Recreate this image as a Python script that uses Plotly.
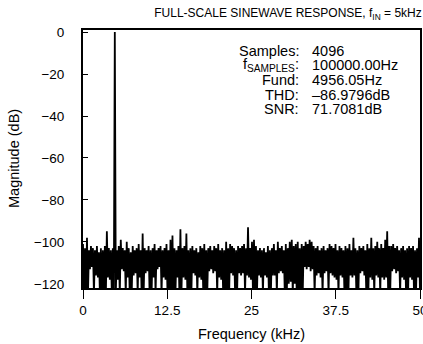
import numpy as np
import plotly.graph_objects as go

# ---- data ----
# spectrum drawn as alternating local peak / local trough per pair of FFT bins
noise_peaks_db = [
    -101, -103, -98, -104, -102,
    -103, -104, -102, -105, -103,
    -104, -102, -95, -103, -104,
    -103, 0, -104, -102, -99,
    -103, -104, -100, -103, -105,
    -102, -104, -103, -101, -104,
    -96, -103, -104, -102, -104,
    -103, -101, -104, -103, -102,
    -104, -103, -101, -104, -99,
    -97, -103, -104, -102, -94,
    -103, -102, -96, -104, -103,
    -102, -104, -103, -105, -102,
    -103, -101, -104, -103, -102,
    -104, -102, -103, -101, -104,
    -103, -104, -100, -103, -101,
    -102, -103, -104, -102, -103,
    -102, -101, -103, -93, -103,
    -100, -99, -102, -104, -103,
    -104, -103, -105, -102, -104,
    -103, -101, -104, -100, -103,
    -102, -104, -101, -103, -100,
    -99, -102, -101, -100, -103,
    -101, -102, -100, -101, -99,
    -100, -102, -103, -102, -104,
    -103, -102, -104, -103, -101,
    -102, -103, -101, -104, -102,
    -103, -104, -102, -103, -101,
    -104, -98, -103, -104, -102,
    -103, -102, -104, -101, -103,
    -98, -103, -102, -100, -103,
    -101, -103, -99, -95, -102,
    -102, -101, -103, -102, -104,
    -103, -102, -104, -103, -102,
    -103, -102, -104, -103, -98,
]
noise_troughs_db = [
    -125, -125, -125, -113, -112,
    -125, -116, -117, -125, -125,
    -125, -125, -117, -118, -125,
    -125, -125, -118, -125, -113,
    -114, -125, -117, -125, -125,
    -116, -115, -125, -117, -125,
    -125, -115, -114, -125, -125,
    -117, -125, -113, -112, -125,
    -117, -118, -125, -125, -125,
    -125, -125, -117, -125, -125,
    -117, -118, -125, -125, -125,
    -115, -116, -125, -117, -118,
    -125, -125, -125, -114, -113,
    -115, -114, -125, -117, -118,
    -125, -125, -125, -125, -115,
    -116, -125, -125, -115, -116,
    -115, -125, -116, -117, -118,
    -125, -125, -125, -116, -117,
    -125, -116, -117, -125, -125,
    -116, -116, -125, -115, -114,
    -115, -125, -125, -120, -119,
    -125, -120, -125, -125, -125,
    -125, -112, -113, -112, -114,
    -113, -125, -116, -115, -117,
    -125, -115, -114, -125, -115,
    -116, -117, -118, -125, -116,
    -117, -125, -125, -125, -116,
    -117, -116, -125, -125, -115,
    -114, -116, -125, -125, -117,
    -118, -125, -116, -117, -125,
    -117, -118, -117, -125, -125,
    -114, -113, -115, -114, -125,
    -117, -118, -125, -125, -117,
    -118, -125, -125, -117, -125,
]
freq_span_khz = [0.0, 50.0]
x_tick_vals = [0, 12.5, 25, 37.5, 50]
x_tick_text = ["0", "12.5", "25", "37.5", "50"]
y_tick_vals = [0, -20, -40, -60, -80, -100, -120]

stats_labels = ["Samples:", "f<sub>SAMPLES</sub>:", "Fund:", "THD:", "SNR:"]
stats_values = ["4096", "100000.00Hz", "4956.05Hz", "\u201386.9796dB", "71.7081dB"]

title_text = "FULL-SCALE SINEWAVE RESPONSE, f<sub>IN</sub> = 5kHz"
x_title = "Frequency (kHz)"
y_title = "Magnitude (dB)"

# ---- build ----
magnitude = [v for pair in zip(noise_peaks_db, noise_troughs_db) for v in pair]
freq = np.linspace(freq_span_khz[0], freq_span_khz[1], len(magnitude))

FONT = "Liberation Sans, Arial, Helvetica, sans-serif"

fig = go.Figure()
fig.add_trace(go.Scatter(
    x=freq, y=magnitude, mode="lines",
    line=dict(color="black", width=1.8, simplify=False),
    hoverinfo="skip", showlegend=False,
))

W, H = 423, 344
ml, mr, mt, mb = 83, 3, 30, 56
fig.update_layout(
    width=W, height=H, autosize=False,
    margin=dict(l=ml, r=mr, t=mt, b=mb, autoexpand=False),
    paper_bgcolor="white", plot_bgcolor="white",
    font=dict(family=FONT, size=13.5, color="black"),
    title=dict(
        text=title_text, xref="container", yref="container",
        x=288 / W, y=1 - 13 / H, xanchor="center", yanchor="middle",
        font=dict(family=FONT, size=12, color="black"),
    ),
    xaxis=dict(
        range=freq_span_khz, tickvals=x_tick_vals, ticktext=x_tick_text,
        ticks="outside", ticklen=9, tickwidth=1, tickcolor="black",
        showline=True, linecolor="black", linewidth=2, mirror=True,
        showgrid=False, zeroline=False, ticklabelstandoff=0,
        ticklabeloverflow="allow", automargin=False,
        tickfont=dict(size=13.5),
    ),
    yaxis=dict(
        range=[-122, 1], tickvals=y_tick_vals,
        ticks="inside", ticklen=5, tickwidth=1, tickcolor="black",
        showline=True, linecolor="black", linewidth=2, mirror=True,
        showgrid=False, zeroline=False, ticklabelstandoff=14,
        automargin=False,
        tickfont=dict(size=13.5),
    ),
)

plot_h = H - mt - mb
def py(y_px):
    return 1 - (y_px - mt) / plot_h

annotations = []
row_y = [50.5, 65, 80, 94.5, 109]
for lab, val, ry in zip(stats_labels, stats_values, row_y):
    annotations.append(dict(
        text=lab, xref="paper", yref="paper", x=(301 - ml) / (W - ml - mr), y=py(ry),
        xanchor="right", yanchor="middle", showarrow=False,
        font=dict(size=14.5, color="black"),
    ))
    annotations.append(dict(
        text=val, xref="paper", yref="paper", x=(310 - ml) / (W - ml - mr), y=py(ry),
        xanchor="left", yanchor="middle", showarrow=False,
        font=dict(size=14.5, color="black"),
    ))
annotations.append(dict(
    text=x_title, xref="paper", yref="paper", x=0.5, y=py(334),
    xanchor="center", yanchor="middle", showarrow=False,
    font=dict(size=14.5, color="black"),
))
annotations.append(dict(
    text=y_title, xref="paper", yref="paper", x=(14 - ml) / (W - ml - mr), y=py(159),
    xanchor="center", yanchor="middle", showarrow=False, textangle=-90,
    font=dict(size=14.5, color="black"),
))
fig.update_layout(annotations=annotations)

fig.write_html(
    "out.html",
    config={"displayModeBar": False, "responsive": False},
    post_script=(
        "document.body.style.margin='0';document.body.style.padding='0';"
        "document.body.style.overflow='hidden';"
        "document.documentElement.style.overflow='hidden';"
    ),
)
